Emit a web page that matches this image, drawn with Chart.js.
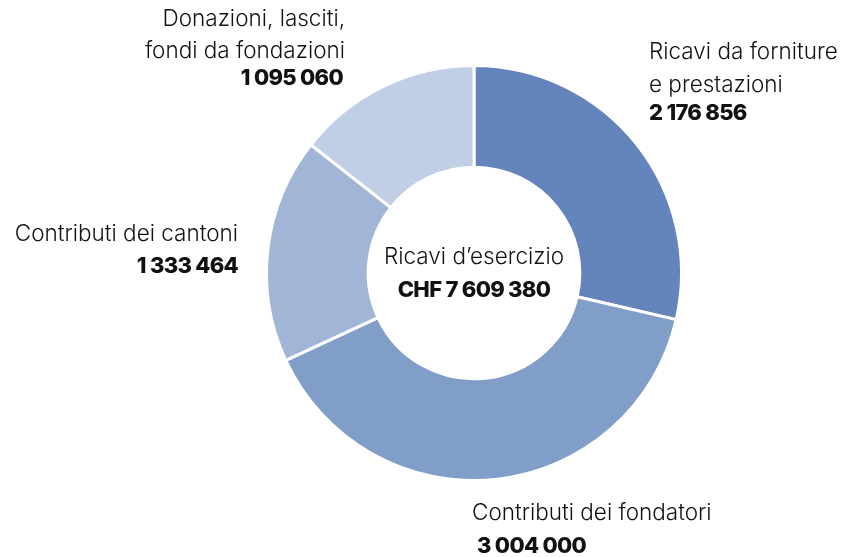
<!DOCTYPE html>
<html>
<head>
<meta charset="utf-8">
<script src="https://cdn.jsdelivr.net/npm/chart.js@4/dist/chart.umd.min.js"></script>
<style>
  html, body { margin: 0; padding: 0; background: #fff; }
  #wrap { width: 850px; height: 557px; position: relative; }
</style>
</head>
<body>
<div id="wrap"><canvas id="ricavi-chart" width="850" height="557"></canvas></div>
<script>
"use strict"

// data
const categories = [
  ["Ricavi da forniture", "e prestazioni"],
  ["Contributi dei fondatori"],
  ["Contributi dei cantoni"],
  ["Donazioni, lasciti,", "fondi da fondazioni"],
];
const values = [2176856, 3004000, 1333464, 1095060];
const centerTitle = "Ricavi d\u2019esercizio";
const currency = "CHF";

const colors = ["#6385bc", "#819ec9", "#a1b5d7", "#c0cfe6"];

function fmt(n) {
  return String(n).replace(/\B(?=(\d{3})+(?!\d))/g, " ");
}

const total = values.reduce((a, b) => a + b, 0);

// where each label block sits (x, align, baselines of the lines)
const labelLayout = [
  { x: 649, align: "left", lines: [59, 92], value: 120, valueX: 649 },
  { x: 472, align: "left", lines: [520], value: 553, valueX: 477 },
  { x: 238, align: "right", lines: [241], value: 273, valueX: 238 },
  { x: 345, align: "right", lines: [26, 58], value: 85, valueX: 343 },
];

const regFont = "300 22.5px Inter";
const boldFont = "800 22px Inter";
const boldSpacing = "-0.7px";

function boldText(ctx, text, x, y) {
  ctx.font = boldFont;
  ctx.letterSpacing = boldSpacing;
  ctx.fillText(text, x, y);
  ctx.letterSpacing = "0px";
}

const labelsPlugin = {
  id: "donutLabels",
  afterDraw(chart) {
    const ctx = chart.ctx;
    ctx.save();
    ctx.fillStyle = "#111";
    ctx.textBaseline = "alphabetic";
    for (let i = 0; i < categories.length; i++) {
      const lay = labelLayout[i];
      ctx.textAlign = lay.align;
      ctx.font = regFont;
      categories[i].forEach((line, j) => {
        ctx.fillText(line, lay.x, lay.lines[j]);
      });
      boldText(ctx, fmt(values[i]), lay.valueX, lay.value);
    }
    // centre text
    const arc = chart.getDatasetMeta(0).data[0];
    ctx.textAlign = "center";
    ctx.font = regFont;
    ctx.fillText(centerTitle, arc.x, arc.y - 9);
    boldText(ctx, currency + " " + fmt(total), arc.x, arc.y + 24);
    ctx.restore();
  },
};

new Chart(document.getElementById("ricavi-chart"), {
  type: "doughnut",
  data: {
    labels: categories.map((c) => c.join(" ")),
    datasets: [
      {
        data: values,
        backgroundColor: colors,
        borderColor: "#ffffff",
        borderWidth: 3,
      },
    ],
  },
  options: {
    responsive: false,
    animation: false,
    cutout: "51%",
    layout: { padding: { left: 265, right: 167, top: 64, bottom: 75 } },
    plugins: {
      legend: { display: false },
      tooltip: { enabled: false },
    },
  },
  plugins: [labelsPlugin],
});
</script>
</body>
</html>
